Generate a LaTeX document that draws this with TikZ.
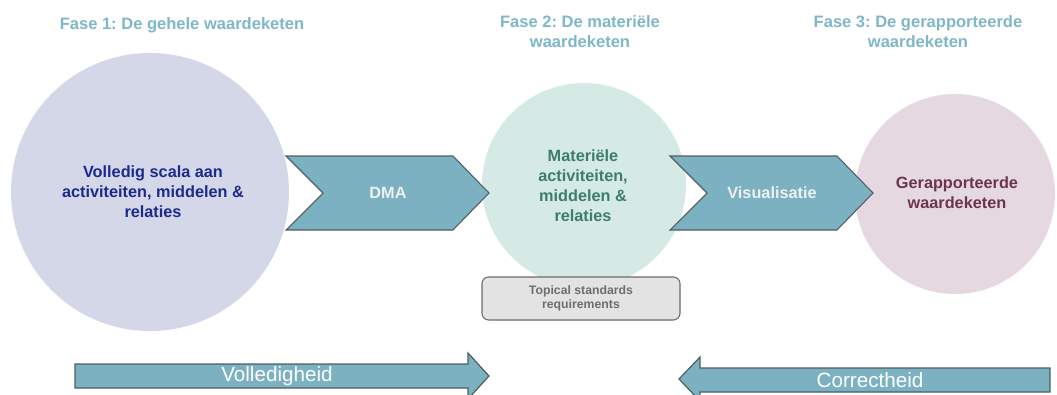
\documentclass[tikz,border=0pt]{standalone}
\usepackage{fontspec}
\setmainfont{Liberation Sans}
\frenchspacing
\definecolor{titleblue}{HTML}{7FB6C8}
\definecolor{arrowfill}{HTML}{7BB1C0}
\definecolor{arrowline}{HTML}{4F5F63}
\definecolor{circA}{HTML}{D4D7E8}
\definecolor{circB}{HTML}{D5EAE5}
\definecolor{circC}{HTML}{E6D8E1}
\definecolor{textA}{HTML}{1C2A8C}
\definecolor{textB}{HTML}{3D7D6B}
\definecolor{textC}{HTML}{6B3550}
\definecolor{boxfill}{HTML}{E3E3E3}
\definecolor{boxline}{HTML}{6A6A6A}
\definecolor{boxtext}{HTML}{6E6E6E}
\tikzset{
  phase/.style={text=titleblue, font=\bfseries\fontsize{12.4}{15}\selectfont, align=center, inner sep=0pt},
  circtext/.style={font=\bfseries\fontsize{12.2}{15}\selectfont, align=center, inner sep=0pt},
  chev/.style={fill=arrowfill, draw=arrowline, line width=0.8pt, line join=miter},
  chevtext/.style={text=white!94!black, font=\bfseries\fontsize{12.2}{14}\selectfont, inner sep=0pt},
  bigarrow/.style={fill=arrowfill, draw=arrowline, line width=0.9pt},
  arrowtext/.style={text=white, font=\fontsize{15.5}{17}\selectfont, inner sep=0pt},
  tsbox/.style={draw=boxline, fill=boxfill, rounded corners=5pt, line width=0.8pt,
      minimum width=148.5pt, minimum height=32.25pt, inner sep=0pt,
      text=boxtext, font=\bfseries\fontsize{9.2}{10.5}\selectfont, align=center},
}
\begin{document}
\begin{tikzpicture}[x=0.75pt,y=-0.75pt]
\useasboundingbox (0,0) rectangle (1057,394);
\clip (0,0) rectangle (1057,394);
% circles
\fill[circA] (150,192) circle (139);
\fill[circB] (584,185) circle (102);
\fill[circC] (955,194) circle (100);
% titles
\node[phase] (t1) at (182,25) {Fase 1: De gehele waardeketen};
\node[phase] (t2) at (580,32) {Fase 2: De materiële\\waardeketen};
\node[phase] (t3) at (918,32) {Fase 3: De gerapporteerde\\waardeketen};
% circle texts
\node[circtext, text=textA] (c1) at (153,192) {Volledig scala aan\\activiteiten, middelen \&\\relaties};
\node[circtext, text=textB] (c2) at (583,186) {Materiële\\activiteiten,\\middelen \&\\relaties};
\node[circtext, text=textC] (c3) at (957,193) {Gerapporteerde\\waardeketen};
% chevrons
\draw[chev] (286,156) -- (453,156) -- (489,193) -- (453,230) -- (286,230) -- (323,193) -- cycle;
\node[chevtext] (dma) at (388,193) {DMA};
\draw[chev] (670,156) -- (837,156) -- (873,193) -- (837,230) -- (670,230) -- (707,193) -- cycle;
\node[chevtext] (vis) at (772,193) {Visualisatie};
% box
\node[tsbox] (box) at (581,298.5) {Topical standards\\requirements};
% bottom arrows
\draw[bigarrow] (75,364) -- (468,364) -- (468,353) -- (489,376) -- (468,399) -- (468,388) -- (75,388) -- cycle;
\node[arrowtext] (vol) at (277,376) {Volledigheid};
\draw[bigarrow] (1050,368) -- (700,368) -- (700,357) -- (679,379) -- (700,401) -- (700,392) -- (1050,392) -- cycle;
\node[arrowtext] (cor) at (870,380) {Correctheid};
\end{tikzpicture}
\end{document}
